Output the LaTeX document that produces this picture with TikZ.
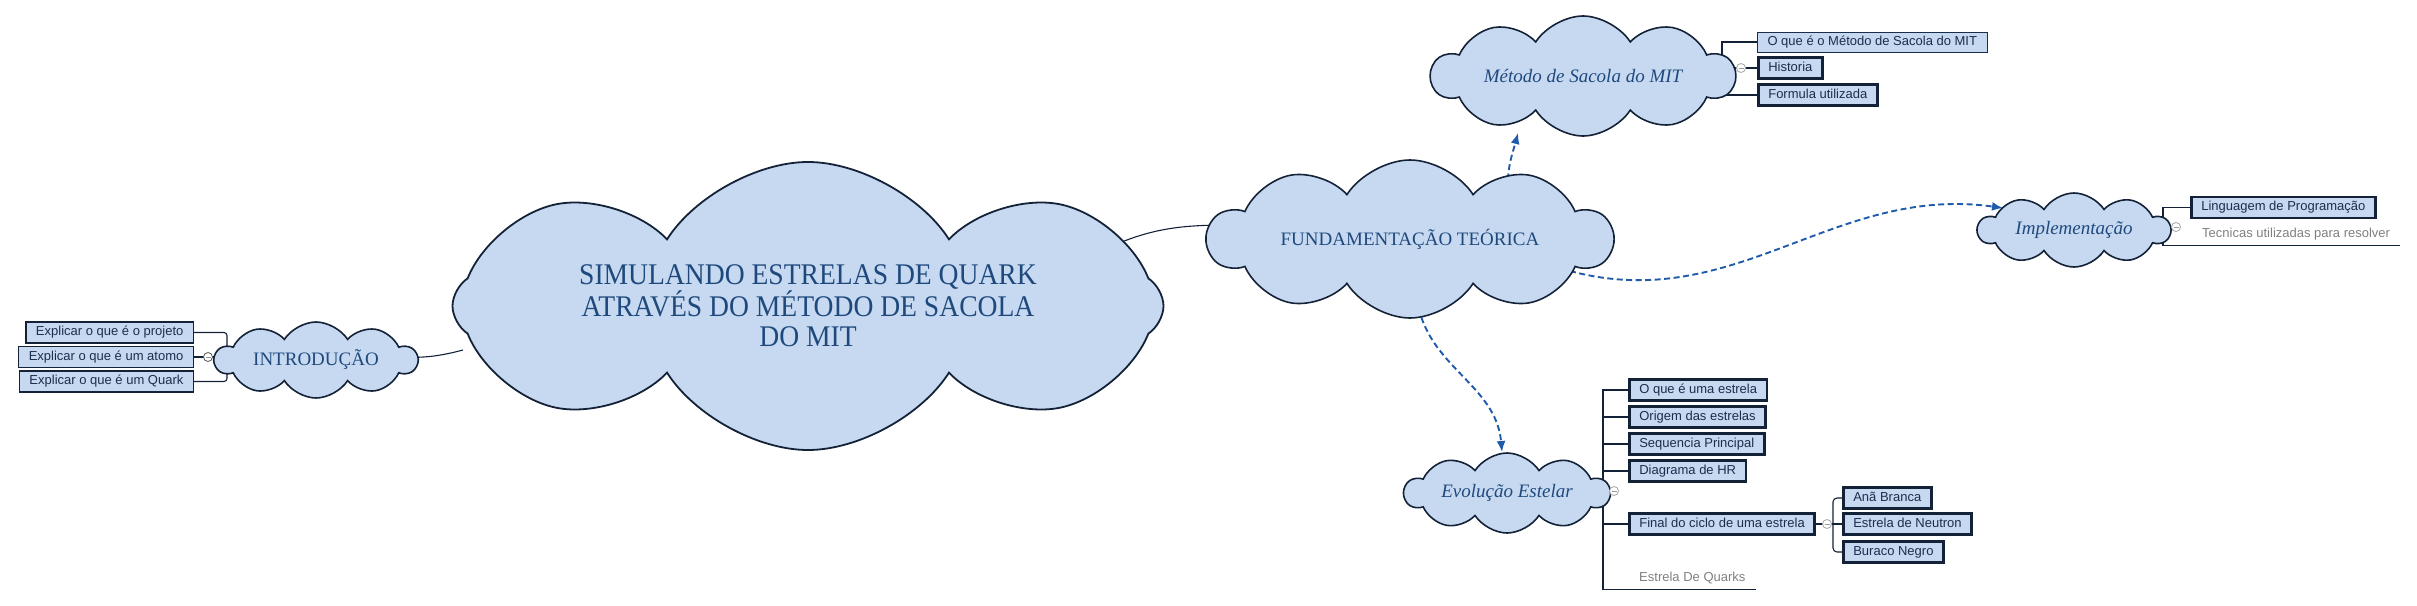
\documentclass[tikz,border=0pt]{standalone}
\usepackage{fontspec}
\setmainfont{Liberation Serif}
\setsansfont{Liberation Sans}
\newfontfamily\titlefont[FakeStretch=0.92]{Liberation Serif}
\usepackage{tikz}
\usetikzlibrary{arrows.meta}
\usetikzlibrary{shapes.symbols}
\definecolor{cloudfill}{HTML}{C6D9F1}
\definecolor{darkink}{HTML}{142238}
\definecolor{cloudtext}{HTML}{1F497D}
\definecolor{boxtext}{HTML}{1D2D4C}
\definecolor{dashblue}{HTML}{1F5BAA}
\colorlet{twiggray}{black!50}
\colorlet{thinframe}{darkink!70!cloudtext}
\pgfdeclarelayer{back}
\pgfsetlayers{back,main}

\begin{document}
\begin{tikzpicture}[x=1pt,y=1pt,
    idea/.style={cloud, cloud puffs=10, cloud puff arc=115, cloud ignores aspect,
        draw=darkink, fill=cloudfill, line width=1.6pt, text=cloudtext,
        align=center, inner sep=0pt, font=\fontsize{19}{22}\selectfont},
    topic/.style={draw=darkink, fill=cloudfill, line width=1.2pt, text=boxtext,
        font=\sffamily\fontsize{13}{13}\selectfont, inner xsep=10pt, inner ysep=0pt,
        minimum height=21pt, text height=9.5pt, text depth=2.7pt},
    topicbold/.style={topic, line width=2.6pt},
    twig/.style={text=twiggray, font=\sffamily\fontsize{13}{13}\selectfont,
        inner xsep=10pt, inner ysep=0pt, minimum height=22pt, text height=9.5pt, text depth=2.7pt},
    branch/.style={darkink, line width=1.1pt},
    link/.style={dashblue, line width=1.9pt, dash pattern=on 6pt off 3.5pt,
        -{Latex[length=11pt,width=9pt]}},
    fold/.style={circle, draw=black!35, fill=white, line width=0.8pt, inner sep=0pt,
        minimum size=9pt, path picture={\draw[black!40, line width=0.8pt]
        ([xshift=-2.5pt]path picture bounding box.center) -- ([xshift=2.5pt]path picture bounding box.center);}}
]
\useasboundingbox (0,0) rectangle (2417,-605);

% clouds
\node[idea, cloud puffs=8, minimum width=711pt, minimum height=288pt, line width=1.8pt,
    font=\titlefont\fontsize{30}{30.5}\selectfont] (main) at (808,-306)
    {SIMULANDO ESTRELAS DE QUARK\\ATRAVÉS DO MÉTODO DE SACOLA\\DO MIT};
\node[idea, minimum width=202pt, minimum height=76pt] (intro) at (316,-360) {INTRODUÇÃO};
\node[idea, minimum width=404pt, minimum height=158pt] (fund) at (1410,-239) {FUNDAMENTAÇÃO TEÓRICA};
\node[idea, minimum width=303pt, minimum height=120pt, font=\itshape\fontsize{19}{22}\selectfont] (metodo) at (1583,-76) {Método de Sacola do MIT};
\node[idea, minimum width=192pt, minimum height=74pt, font=\itshape\fontsize{19}{22}\selectfont] (impl) at (2074,-230) {Implementação};
\node[idea, minimum width=205pt, minimum height=80pt, font=\itshape\fontsize{19}{22}\selectfont] (evol) at (1507,-493) {Evolução Estelar};

% introducao
\node[topic, anchor=east] (proj) at (194,-332.5) {Explicar o que é o projeto};
\node[topic, anchor=east] (atomo) at (194,-357) {Explicar o que é um atomo};
\node[topic, anchor=east] (quark) at (194,-381.5) {Explicar o que é um Quark};
\node[fold, draw=black!65] (ifold) at (208,-357) {};

% metodo de sacola
\node[topic, anchor=west, draw=thinframe, line width=1pt, minimum height=20pt] (mwhat) at (1757,-42) {O que é o Método de Sacola do MIT};
\node[topicbold, anchor=west] (mhist) at (1757,-68) {Historia};
\node[topicbold, anchor=west] (mform) at (1757,-95) {Formula utilizada};
\node[fold] (mfold) at (1741,-68) {};

% implementacao
\node[topicbold, anchor=west] (lang) at (2190,-207.5) {Linguagem de Programação};
\node[twig, anchor=west] (tecn) at (2192,-234) {Tecnicas utilizadas para resolver};
\node[fold] (pfold) at (2176,-227) {};

% evolucao estelar
\node[topicbold, anchor=west] (estr) at (1628,-390) {O que é uma estrela};
\node[topicbold, anchor=west] (orig) at (1628,-417) {Origem das estrelas};
\node[topicbold, anchor=west] (seq) at (1628,-444) {Sequencia Principal};
\node[topicbold, anchor=west] (hr) at (1628,-471) {Diagrama de HR};
\node[topicbold, anchor=west] (final) at (1628,-524) {Final do ciclo de uma estrela};
\node[twig, anchor=west] (quarks) at (1629,-578) {Estrela De Quarks};
\node[fold] (efold) at (1614,-491) {};

\node[topicbold, anchor=west] (anab) at (1842,-498) {Anã Branca};
\node[topicbold, anchor=west] (neutron) at (1842,-524) {Estrela de Neutron};
\node[topicbold, anchor=west] (buraco) at (1842,-552) {Buraco Negro};
\node[fold] (ffold) at (1827,-524) {};

\begin{pgfonlayer}{back}
\draw[branch] ([shift={(70pt,4pt)}]intro.center) to[out=-5,in=195] ([shift={(-345pt,-44pt)}]main.center);
\draw[branch] ([shift={(300pt,58pt)}]main.center) to[out=25,in=180] ([shift={(-155pt,14pt)}]fund.center);
% forks
\coordinate (introfork) at (227,-357);
\draw[branch, rounded corners=3pt] (proj.east) -| (introfork) |- (quark.east);
\draw[branch] (atomo.east) -- (atomo.east -| intro.center);
\coordinate (mfork) at (1722,-68);
\draw[branch] (mwhat.west) -| (mfork) |- (mform.west);
\draw[branch] (mhist.west) -- (mhist.west -| metodo.center);
\coordinate (ifork) at (2163,-227);
\draw[branch] (lang.west) -| (ifork) |- (tecn.south east);
\coordinate (efork) at (1603,-491);
\draw[branch] (estr.west) -| (efork) |- (quarks.south east);
\foreach \n in {orig,seq,hr,final}
    \draw[branch] (\n.west) -- (\n.west -| efork);
\coordinate (ffork) at (1833,-524);
\draw[branch, rounded corners=4pt] (anab.west) -| (ffork) |- (buraco.west);
\draw[branch] (final.east) -- (neutron.west);
% dashed links
\draw[link] ([shift={(98pt,50pt)}]fund.center) to[out=92,in=-105] ([shift={(-65pt,-57pt)}]metodo.center);
\draw[link] ([shift={(160pt,-32pt)}]fund.center) to[out=-15,in=172] ([shift={(-71pt,22pt)}]impl.center);
\draw[link] ([shift={(7pt,-60pt)}]fund.center) to[out=-82,in=95] ([shift={(-5pt,41pt)}]evol.center);
\end{pgfonlayer}
\end{tikzpicture}
\end{document}
